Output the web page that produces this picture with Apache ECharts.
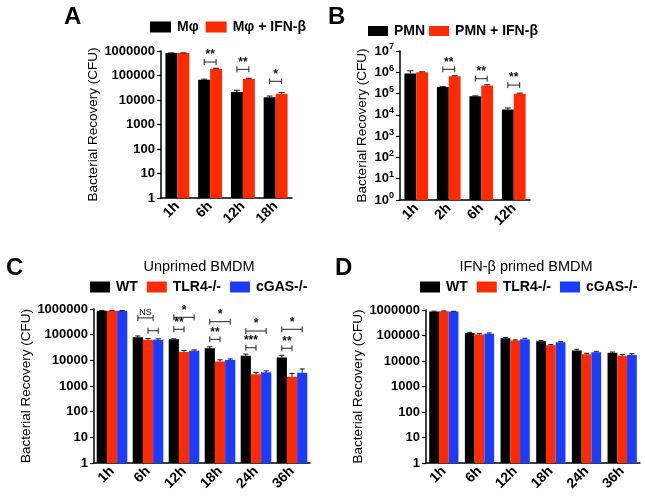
<!DOCTYPE html>
<html><head><meta charset="utf-8">
<script src="https://cdn.jsdelivr.net/npm/echarts@6/dist/echarts.min.js"></script>
<style>html,body{margin:0;padding:0;background:#fff}#c{width:645px;height:499px}</style>
</head><body><div id="c"></div>
<script>
// ---------- DATA ----------
const catsA = ['1h', '6h', '12h', '18h'];
const mphi = [820000, 67000, 21000, 13000];
const mphiErr = [20000, 4000, 4000, 1500];
const mphiIfn = [820000, 190000, 72000, 18000];
const mphiIfnErr = [20000, 8000, 5000, 2000];
const sigACat = [1, 2, 3];
const sigAY = [355000, 178000, 58000];
const sigALabel = ['**', '**', '*'];

const catsB = ['1h', '2h', '6h', '12h'];
const pmn = [870000, 205000, 74000, 18000];
const pmnErr = [300000, 6000, 4000, 3000];
const pmnIfn = [1000000, 650000, 240000, 97000];
const pmnIfnErr = [50000, 40000, 20000, 8000];
const sigBCat = [1, 2, 3];
const sigBY = [1380000, 500000, 250000];
const sigBLabel = ['**', '**', '**'];

const catsC = ['1h', '6h', '12h', '18h', '24h', '36h'];
const wtC = [850000, 80000, 66000, 29500, 15000, 13000];
const wtCErr = [20000, 9000, 3000, 4000, 2500, 2800];
const tlrC = [860000, 63000, 21000, 9000, 2900, 2300];
const tlrCErr = [20000, 8000, 3000, 1500, 500, 800];
const cgasC = [850000, 63000, 23500, 10300, 3400, 3300];
const cgasCErr = [20000, 6000, 2000, 1000, 500, 1300];
const sigCCat = [1, 1, 2, 2, 3, 3, 4, 4, 5, 5];
const sigCFrom = [0, 1, 0, 0, 0, 0, 0, 0, 0, 0];
const sigCTo = [1.5, 2, 2, 1, 2, 1, 2, 1, 2, 1];
const sigCY = [450000, 142000, 475000, 162000, 320000, 66000, 139000, 31000, 162000, 29500];
const sigCLabel = ['NS', '', '*', '**', '*', '**', '*', '***', '*', '**'];

const catsD = ['1h', '6h', '12h', '18h', '24h', '36h'];
const wtD = [880000, 125000, 78000, 60000, 26000, 21000];
const wtDErr = [20000, 8000, 5000, 4000, 3000, 1500];
const tlrD = [900000, 110000, 63000, 41000, 18500, 16000];
const tlrDErr = [20000, 8000, 4000, 3000, 1500, 2000];
const cgasD = [870000, 118000, 72000, 54000, 22000, 17000];
const cgasDErr = [20000, 8000, 6000, 3000, 2000, 2500];

const yNameText = 'Bacterial Recovery (CFU)';
// ---------- STYLE ----------
const FONT = 'Liberation Sans, Arial, sans-serif';
const BLACK = '#000000', RED = '#ff2a00', BLUE = '#1a3cff';

const layout = [
  {left: 161, top: 51, width: 131, height: 147, gap: 0.27, n: 2, nameGap: 59},
  {left: 400, top: 51, width: 130, height: 149, gap: 0.27, n: 2, nameGap: 31},
  {left: 94, top: 309, width: 216, height: 154, gap: 0.15, n: 3, nameGap: 58},
  {left: 426, top: 310, width: 214, height: 153, gap: 0.18, n: 3, nameGap: 61}
];

function barPos(api, cat, idx, n, gap, yv) {
  const c0 = api.coord([0, yv]), c1 = api.coord([1, yv]);
  const band = c1[0] - c0[0];
  const bw = band * (1 - gap) / n;
  const cc = api.coord([cat, yv]);
  return {x: cc[0] - bw * n / 2 + (idx + 0.5) * bw, y: cc[1], bw: bw};
}

function errData(vals, errs) {
  const out = [];
  vals.forEach((arr, s) => arr.forEach((v, i) => out.push([i, s, v, errs[s][i]])));
  return out;
}

function errSeries(p, vals, errs) {
  const L = layout[p];
  return {
    type: 'custom', xAxisIndex: p, yAxisIndex: p, z: 5, silent: true,
    encode: {x: 0, y: 2},
    data: errData(vals, errs),
    renderItem: function (params, api) {
      const cat = api.value(0), s = api.value(1), v = api.value(2), e = api.value(3);
      const b = barPos(api, cat, s, L.n, L.gap, v);
      const t = api.coord([cat, v + e]);
      const cw = b.bw * 0.5;
      return {type: 'group', children: [
        {type: 'line', shape: {x1: b.x, y1: b.y, x2: b.x, y2: t[1]}, style: {stroke: '#111', lineWidth: 1}},
        {type: 'line', shape: {x1: b.x - cw / 2, y1: t[1], x2: b.x + cw / 2, y2: t[1]}, style: {stroke: '#111', lineWidth: 1}}
      ]};
    }
  };
}

function sigSeries(p, cats, froms, tos, ys, labels) {
  const L = layout[p];
  const data = cats.map((c, i) => [c, froms[i], tos[i], ys[i]]);
  return {
    type: 'custom', xAxisIndex: p, yAxisIndex: p, z: 6, silent: true,
    encode: {x: 0, y: 3},
    data: data,
    renderItem: function (params, api) {
      const cat = api.value(0), f = api.value(1), t = api.value(2), yv = api.value(3);
      const a = barPos(api, cat, f, L.n, L.gap, yv);
      const b = barPos(api, cat, t, L.n, L.gap, yv);
      const y = a.y, lbl = labels[params.dataIndex];
      const ch = [
        {type: 'line', shape: {x1: a.x, y1: y, x2: b.x, y2: y}, style: {stroke: '#222', lineWidth: 1}},
        {type: 'line', shape: {x1: a.x, y1: y - 3, x2: a.x, y2: y + 3}, style: {stroke: '#222', lineWidth: 1}},
        {type: 'line', shape: {x1: b.x, y1: y - 3, x2: b.x, y2: y + 3}, style: {stroke: '#222', lineWidth: 1}}
      ];
      if (lbl) {
        const ns = lbl === 'NS';
        ch.push({type: 'text', x: (a.x + b.x) / 2, y: y - 1,
          style: {text: lbl, textAlign: 'center', textVerticalAlign: 'bottom', fill: '#111',
            font: (ns ? 'normal 9px ' : 'bold 12px ') + FONT}});
      }
      return {type: 'group', children: ch};
    }
  };
}

function barSeries(p, name, data, color) {
  return {type: 'bar', name: name, xAxisIndex: p, yAxisIndex: p, data: data, barGap: '0%',
    barCategoryGap: (layout[p].gap * 100) + '%', itemStyle: {color: color}, z: 2, silent: true};
}

const axisLineStyle = {lineStyle: {color: '#000', width: 1.5}};
function xAxis(p, cats) {
  return {type: 'category', gridIndex: p, data: cats,
    axisLine: axisLineStyle,
    axisTick: {alignWithLabel: true, length: 4, lineStyle: {color: '#000', width: 1.2}},
    axisLabel: {interval: 0, rotate: 45, margin: 6, color: '#000', fontWeight: 'bold', fontSize: 14, fontFamily: FONT}};
}
function yAxis(p, max, sup) {
  return {type: 'log', logBase: 10, gridIndex: p, min: 1, max: max,
    name: yNameText, nameLocation: 'middle', nameGap: layout[p].nameGap,
    nameTextStyle: {color: '#000', fontSize: 13.5, fontFamily: FONT},
    axisLine: {show: true, lineStyle: {color: '#000', width: 1.5}},
    axisTick: {show: true, length: 4, lineStyle: {color: '#000', width: 1.2}},
    splitLine: {show: false},
    axisLabel: sup ? {
      margin: 6, color: '#000', fontFamily: FONT,
      formatter: v => '{b|10}{s|' + Math.round(Math.log10(v)) + '}',
      rich: {b: {fontSize: 13, fontWeight: 'bold', fontFamily: FONT, color: '#000'},
             s: {fontSize: 9, fontWeight: 'bold', fontFamily: FONT, color: '#000', padding: [0, 0, 8, 0]}}
    } : {
      margin: 6, color: '#000', fontWeight: 'bold', fontSize: 13, fontFamily: FONT,
      formatter: v => String(Math.round(v))
    }};
}
function legend(names, left, top, iw, ih, gap) {
  return {data: names, left: left, top: top, padding: 0, itemWidth: iw, itemHeight: ih, itemGap: gap,
    icon: 'rect', selectedMode: false,
    textStyle: {color: '#000', fontWeight: 'bold', fontSize: 14, fontFamily: FONT, padding: [0, 0, 0, 1]}};
}

const gLabels = ['WT', 'TLR4-/-', 'cGAS-/-'];
const option = {
  animation: false,
  backgroundColor: '#fff',
  grid: layout.map(L => ({left: L.left, top: L.top, width: L.width, height: L.height, containLabel: false})),
  xAxis: [xAxis(0, catsA), xAxis(1, catsB), xAxis(2, catsC), xAxis(3, catsD)],
  yAxis: [yAxis(0, 1e6, false), yAxis(1, 1e7, true), yAxis(2, 1e6, false), yAxis(3, 1e6, false)],
  legend: [
    legend(['Mφ', 'Mφ + IFN-β'], 150, 20, 21, 11, 7),
    legend(['PMN', 'PMN + IFN-β'], 368, 24, 20, 10, 4),
    legend(gLabels, 90, 280, 20, 11, 9),
    legend(gLabels, 420, 280, 20, 11, 9)
  ],
  graphic: [
    {type: 'text', left: 64, top: 5, style: {text: 'A', font: 'bold 24px ' + FONT, fill: '#000'}},
    {type: 'text', left: 328, top: 5, style: {text: 'B', font: 'bold 24px ' + FONT, fill: '#000'}},
    {type: 'text', left: 6, top: 256, style: {text: 'C', font: 'bold 24px ' + FONT, fill: '#000'}},
    {type: 'text', left: 335, top: 256, style: {text: 'D', font: 'bold 24px ' + FONT, fill: '#000'}},
    {type: 'text', x: 199, y: 267, style: {text: 'Unprimed BMDM', font: 'normal 14.5px ' + FONT, fill: '#000', textAlign: 'center', textVerticalAlign: 'middle'}},
    {type: 'text', x: 526, y: 267, style: {text: 'IFN-β primed BMDM', font: 'normal 14.5px ' + FONT, fill: '#000', textAlign: 'center', textVerticalAlign: 'middle'}}
  ],
  series: [
    barSeries(0, 'Mφ', mphi, BLACK), barSeries(0, 'Mφ + IFN-β', mphiIfn, RED),
    errSeries(0, [mphi, mphiIfn], [mphiErr, mphiIfnErr]),
    sigSeries(0, sigACat, sigACat.map(() => 0), sigACat.map(() => 1), sigAY, sigALabel),
    barSeries(1, 'PMN', pmn, BLACK), barSeries(1, 'PMN + IFN-β', pmnIfn, RED),
    errSeries(1, [pmn, pmnIfn], [pmnErr, pmnIfnErr]),
    sigSeries(1, sigBCat, sigBCat.map(() => 0), sigBCat.map(() => 1), sigBY, sigBLabel),
    barSeries(2, 'WT', wtC, BLACK), barSeries(2, 'TLR4-/-', tlrC, RED), barSeries(2, 'cGAS-/-', cgasC, BLUE),
    errSeries(2, [wtC, tlrC, cgasC], [wtCErr, tlrCErr, cgasCErr]),
    sigSeries(2, sigCCat, sigCFrom, sigCTo, sigCY, sigCLabel),
    barSeries(3, 'WT', wtD, BLACK), barSeries(3, 'TLR4-/-', tlrD, RED), barSeries(3, 'cGAS-/-', cgasD, BLUE),
    errSeries(3, [wtD, tlrD, cgasD], [wtDErr, tlrDErr, cgasDErr])
  ]
};
const chart = echarts.init(document.getElementById('c'), null, {renderer: 'canvas'});
chart.setOption(option);
</script></body></html>
